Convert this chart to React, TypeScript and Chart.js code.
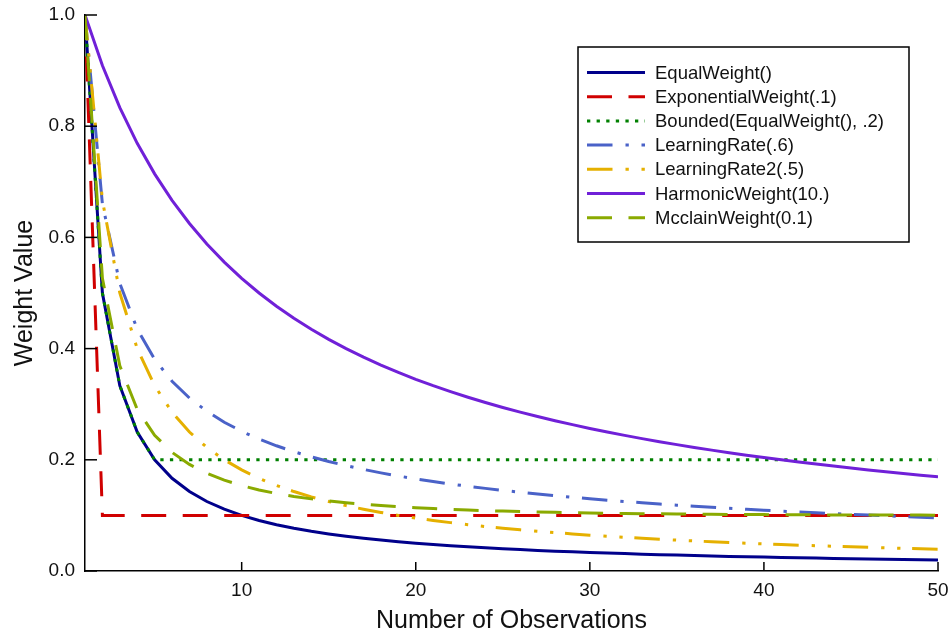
import React, { useEffect, useRef } from "react";
import { Chart, registerables } from "chart.js";

Chart.register(...registerables);

const FONT = '"Liberation Sans", Arial, Helvetica, sans-serif';

const observations = [
  1, 2, 3, 4, 5, 6, 7, 8, 9, 10, 11, 12, 13, 14, 15, 16, 17, 18, 19, 20, 21, 22, 23, 24, 25,
  26, 27, 28, 29, 30, 31, 32, 33, 34, 35, 36, 37, 38, 39, 40, 41, 42, 43, 44, 45, 46, 47, 48, 49, 50,
];

const equalWeight = [
  1, 0.5, 0.3333, 0.25, 0.2, 0.1667, 0.1429, 0.125, 0.1111, 0.1, 0.0909, 0.0833, 0.0769, 0.0714, 0.0667,
  0.0625, 0.0588, 0.0556, 0.0526, 0.05, 0.0476, 0.0455, 0.0435, 0.0417, 0.04, 0.0385, 0.037, 0.0357,
  0.0345, 0.0333, 0.0323, 0.0313, 0.0303, 0.0294, 0.0286, 0.0278, 0.027, 0.0263, 0.0256, 0.025, 0.0244,
  0.0238, 0.0233, 0.0227, 0.0222, 0.0217, 0.0213, 0.0208, 0.0204, 0.02,
];

const exponentialWeight = [
  1, 0.1, 0.1, 0.1, 0.1, 0.1, 0.1, 0.1, 0.1, 0.1, 0.1, 0.1, 0.1, 0.1, 0.1, 0.1, 0.1, 0.1, 0.1, 0.1, 0.1,
  0.1, 0.1, 0.1, 0.1, 0.1, 0.1, 0.1, 0.1, 0.1, 0.1, 0.1, 0.1, 0.1, 0.1, 0.1, 0.1, 0.1, 0.1, 0.1, 0.1,
  0.1, 0.1, 0.1, 0.1, 0.1, 0.1, 0.1, 0.1, 0.1,
];

const boundedWeight = [
  1, 0.5, 0.3333, 0.25, 0.2, 0.2, 0.2, 0.2, 0.2, 0.2, 0.2, 0.2, 0.2, 0.2, 0.2, 0.2, 0.2, 0.2, 0.2, 0.2,
  0.2, 0.2, 0.2, 0.2, 0.2, 0.2, 0.2, 0.2, 0.2, 0.2, 0.2, 0.2, 0.2, 0.2, 0.2, 0.2, 0.2, 0.2, 0.2, 0.2,
  0.2, 0.2, 0.2, 0.2, 0.2, 0.2, 0.2, 0.2, 0.2, 0.2,
];

const learningRate = [
  1, 0.6598, 0.5173, 0.4353, 0.3807, 0.3413, 0.3111, 0.2872, 0.2676, 0.2512, 0.2372, 0.2252, 0.2146,
  0.2053, 0.1969, 0.1895, 0.1827, 0.1765, 0.1709, 0.1657, 0.1609, 0.1565, 0.1524, 0.1486, 0.145, 0.1416,
  0.1384, 0.1354, 0.1326, 0.1299, 0.1274, 0.125, 0.1227, 0.1205, 0.1184, 0.1165, 0.1146, 0.1128, 0.111,
  0.1093, 0.1077, 0.1062, 0.1047, 0.1033, 0.1019, 0.1006, 0.0993, 0.098, 0.0968, 0.0956,
];

const learningRate2 = [
  1, 0.6667, 0.5, 0.4, 0.3333, 0.2857, 0.25, 0.2222, 0.2, 0.1818, 0.1667, 0.1538, 0.1429, 0.1333, 0.125,
  0.1176, 0.1111, 0.1053, 0.1, 0.0952, 0.0909, 0.087, 0.0833, 0.08, 0.0769, 0.0741, 0.0714, 0.069,
  0.0667, 0.0645, 0.0625, 0.0606, 0.0588, 0.0571, 0.0556, 0.0541, 0.0526, 0.0513, 0.05, 0.0488, 0.0476,
  0.0465, 0.0455, 0.0444, 0.0435, 0.0426, 0.0417, 0.0408, 0.04, 0.0392,
];

const harmonicWeight = [
  1, 0.9091, 0.8333, 0.7692, 0.7143, 0.6667, 0.625, 0.5882, 0.5556, 0.5263, 0.5, 0.4762, 0.4545, 0.4348,
  0.4167, 0.4, 0.3846, 0.3704, 0.3571, 0.3448, 0.3333, 0.3226, 0.3125, 0.303, 0.2941, 0.2857, 0.2778,
  0.2703, 0.2632, 0.2564, 0.25, 0.2439, 0.2381, 0.2326, 0.2273, 0.2222, 0.2174, 0.2128, 0.2083, 0.2041,
  0.2, 0.1961, 0.1923, 0.1887, 0.1852, 0.1818, 0.1786, 0.1754, 0.1724, 0.1695,
];

const mcclainWeight = [
  1, 0.5263, 0.369, 0.2908, 0.2442, 0.2134, 0.1917, 0.1756, 0.1633, 0.1536, 0.1458, 0.1394, 0.1341,
  0.1297, 0.126, 0.1228, 0.1201, 0.1177, 0.1157, 0.1139, 0.1123, 0.1109, 0.1097, 0.1086, 0.1077, 0.1069,
  0.1062, 0.1055, 0.1049, 0.1044, 0.1039, 0.1035, 0.1031, 0.1028, 0.1025, 0.1022, 0.102, 0.1018, 0.1016,
  0.1014, 0.1012, 0.1011, 0.101, 0.1009, 0.1008, 0.1007, 0.1006, 0.1005, 0.1005, 0.1004,
];

const seriesLabels = [
  "EqualWeight()",
  "ExponentialWeight(.1)",
  "Bounded(EqualWeight(), .2)",
  "LearningRate(.6)",
  "LearningRate2(.5)",
  "HarmonicWeight(10.)",
  "McclainWeight(0.1)",
];
const seriesValues = [
  equalWeight,
  exponentialWeight,
  boundedWeight,
  learningRate,
  learningRate2,
  harmonicWeight,
  mcclainWeight,
];
const seriesColors = ["#00008B", "#D00000", "#008000", "#4A62C8", "#E5B000", "#7020D8", "#8AAA00"];
const seriesDashes: number[][] = [
  [],
  [25, 16.5],
  [3.3, 6.3],
  [25.5, 13, 3.3, 12.7],
  [25.5, 13, 3.3, 12.7, 3.3, 11.7],
  [],
  [25, 16.5],
];

const yTickValues = [0, 0.2, 0.4, 0.6, 0.8, 1.0];
const xTickValues = [10, 20, 30, 40, 50];
const xTitle = "Number of Observations";
const yTitle = "Weight Value";

const innerTicksPlugin = {
  id: "innerTicks",
  afterDatasetsDraw(chart: any) {
    const { ctx, chartArea, scales } = chart;
    ctx.save();
    ctx.strokeStyle = "#000";
    ctx.lineWidth = 1.5;
    for (const v of yTickValues) {
      const y = scales.y.getPixelForValue(v);
      ctx.beginPath();
      ctx.moveTo(chartArea.left, y);
      ctx.lineTo(chartArea.left + 12, y);
      ctx.stroke();
    }
    for (const v of xTickValues) {
      const x = scales.x.getPixelForValue(v);
      ctx.beginPath();
      ctx.moveTo(x, chartArea.bottom);
      ctx.lineTo(x, chartArea.bottom - 9);
      ctx.stroke();
    }
    ctx.restore();
  },
};

const boxLegendPlugin = {
  id: "boxLegend",
  afterDraw(chart: any) {
    const { ctx } = chart;
    const left = 578;
    const top = 47;
    const right = 909;
    const bottom = 242;
    ctx.save();
    ctx.fillStyle = "#fff";
    ctx.fillRect(left, top, right - left, bottom - top);
    ctx.strokeStyle = "#000";
    ctx.lineWidth = 1.5;
    ctx.strokeRect(left, top, right - left, bottom - top);
    ctx.font = `18.5px ${FONT}`;
    ctx.textBaseline = "middle";
    ctx.textAlign = "left";
    chart.data.datasets.forEach((ds: any, i: number) => {
      const y = 72.5 + i * 24.2;
      ctx.beginPath();
      ctx.setLineDash(ds.borderDash || []);
      ctx.strokeStyle = ds.borderColor;
      ctx.lineWidth = ds.borderWidth;
      ctx.moveTo(587, y);
      ctx.lineTo(645, y);
      ctx.stroke();
      ctx.setLineDash([]);
      ctx.fillStyle = "#111";
      ctx.fillText(ds.label, 655, y + 1);
    });
    ctx.restore();
  },
};

export default function App() {
  const canvasRef = useRef<HTMLCanvasElement | null>(null);

  useEffect(() => {
    if (!canvasRef.current) return;
    const datasets = seriesLabels.map((label, i) => ({
      label,
      data: observations.map((x, k) => ({ x, y: seriesValues[i][k] })),
      borderColor: seriesColors[i],
      backgroundColor: seriesColors[i],
      borderDash: seriesDashes[i],
      borderWidth: 3,
      pointRadius: 0,
      tension: 0,
      fill: false,
      order: 10 - i,
    }));

    const chart = new Chart(canvasRef.current, {
      type: "line",
      data: { datasets },
      options: {
        animation: false,
        responsive: true,
        maintainAspectRatio: false,
        layout: { padding: 0 },
        plugins: {
          legend: { display: false },
          tooltip: { enabled: false },
        },
        scales: {
          x: {
            type: "linear",
            min: 1,
            max: 50,
            grid: { display: false, drawTicks: false },
            border: { display: true, color: "#000", width: 1.5 },
            afterBuildTicks: (s: any) => {
              s.ticks = xTickValues.map((value) => ({ value }));
            },
            afterFit: (s: any) => {
              s.height = 65;
              s.paddingLeft = 0;
              s.paddingRight = 12;
            },
            ticks: {
              color: "#111",
              font: { family: FONT, size: 19 },
              padding: 8,
              maxRotation: 0,
              autoSkip: false,
            },
            title: {
              display: true,
              text: xTitle,
              color: "#111",
              font: { family: FONT, size: 25 },
              padding: { top: 0, bottom: 0 },
            },
          },
          y: {
            type: "linear",
            min: 0,
            max: 1,
            grid: { display: false, drawTicks: false },
            border: { display: true, color: "#000", width: 1.5 },
            afterBuildTicks: (s: any) => {
              s.ticks = yTickValues.map((value) => ({ value }));
            },
            afterFit: (s: any) => {
              s.width = 85;
              s.paddingTop = 15;
              s.paddingBottom = 0;
            },
            ticks: {
              color: "#111",
              font: { family: FONT, size: 19 },
              padding: 10,
              autoSkip: false,
              callback: (v: any) => Number(v).toFixed(1),
            },
            title: {
              display: true,
              text: yTitle,
              color: "#111",
              font: { family: FONT, size: 25 },
              padding: { top: 10, bottom: 0 },
            },
          },
        },
      },
      plugins: [innerTicksPlugin, boxLegendPlugin],
    });

    return () => chart.destroy();
  }, []);

  return (
    <div style={{ position: "fixed", left: 0, top: 0, width: 950, height: 636, background: "#fff" }}>
      <canvas ref={canvasRef} />
    </div>
  );
}
